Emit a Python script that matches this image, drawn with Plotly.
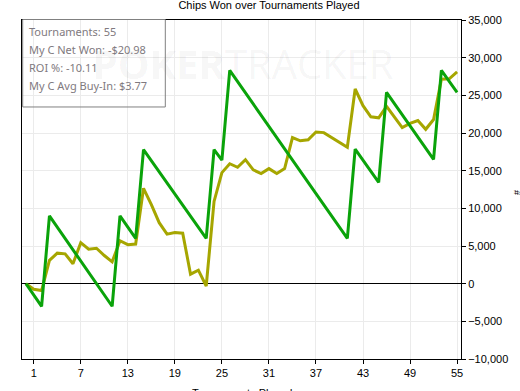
import plotly.graph_objects as go

# ---- data ----
title_text = "Chips Won over Tournaments Played"
x_title = "Tournaments Played"
y_title = "#"

olive_x = list(range(0, 56))
olive_y = [0, -740, -910, 3090, 4050, 3960, 2650, 5440, 4570, 4700,
           3740, 2900, 5700, 5180, 5260, 12660, 10480, 8090, 6570, 6790,
           6700, 1260, 1790, -310, 10920, 14740, 15920, 15450, 16460, 15100,
           14620, 15270, 14620, 15270, 19400, 18960, 19090, 20140, 20050, 19400,
           18750, 18100, 25840, 23620, 22150, 22020, 23530, 22150, 20710, 21270,
           21660, 20490, 21790, 27140, 27200, 28100]

green_x = [0, 2, 3, 11, 12, 14, 15, 23, 24, 25, 26, 41, 42, 45, 46, 52, 53, 55]
green_y = [0, -3000, 9000, -3000, 9000, 6000, 17800, 6000, 17800, 16400,
           28300, 6000, 17850, 13450, 25400, 16500, 28300, 25400]

x_ticks = [1, 7, 13, 19, 25, 31, 37, 43, 49, 55]
y_ticks = [-10000, -5000, 0, 5000, 10000, 15000, 20000, 25000, 30000, 35000]

stats_lines = ["Tournaments: 55", "My C Net Won: -$20.98", "ROI %: -10.11",
               "My C Avg Buy-In: $3.77"]

W, H = 520, 391
L, R, T, B = 22, 59, 20, 28
pw, ph = W - L - R, H - T - B


def px(xp):
    return (xp - L) / pw


def py(yp):
    return (H - B - yp) / ph


fig = go.Figure()

# watermark (behind lines)
fig.add_trace(go.Scatter(
    x=[27.7], y=[28500], mode="text",
    text=["<b>POKER</b>TRACKER"],
    textfont=dict(family="Open Sans", size=40, color="rgba(0,0,0,0.05)"),
    hoverinfo="skip", showlegend=False))

fig.add_trace(go.Scatter(
    x=olive_x, y=olive_y, mode="lines",
    line=dict(color="#a6a600", width=3), showlegend=False))
fig.add_trace(go.Scatter(
    x=green_x, y=green_y, mode="lines",
    line=dict(color="#0aa30a", width=3), showlegend=False))

fig.update_layout(
    width=W, height=H,
    margin=dict(l=L, r=R, t=T, b=B),
    paper_bgcolor="white", plot_bgcolor="white",
    font=dict(family="Liberation Sans", size=11, color="black"),
    title=dict(text=title_text, x=269 / W, xanchor="center",
               y=1 - 5 / H, yanchor="middle",
               font=dict(family="Liberation Sans", size=11, color="black")),
    xaxis=dict(range=[-0.5, 55.5], tickvals=x_ticks,
               showgrid=True, gridcolor="#ebebeb", gridwidth=1,
               showline=True, linecolor="black", linewidth=1, mirror=True,
               ticks="outside", ticklen=4, tickcolor="black",
               zeroline=False, tickfont=dict(size=11)),
    yaxis=dict(range=[-10000, 35000], tickvals=y_ticks, side="right",
               tickformat=",d",
               showgrid=True, gridcolor="#ebebeb", gridwidth=1,
               showline=True, linecolor="black", linewidth=1, mirror=True,
               ticks="outside", ticklen=4, tickcolor="black",
               zeroline=True, zerolinecolor="black", zerolinewidth=1,
               tickfont=dict(size=11)),
    showlegend=False,
)

# stats box (transparent fill, gray border)
fig.add_shape(type="rect", xref="paper", yref="paper",
              x0=px(22.7), x1=px(165.3), y0=py(108), y1=py(19.5),
              line=dict(color="#808080", width=1),
              fillcolor="rgba(255,255,255,0)", layer="above")
for i, s in enumerate(stats_lines):
    fig.add_annotation(text=s, xref="paper", yref="paper",
                       x=px(27), y=py(31.5 + i * 18.2),
                       xanchor="left", yanchor="middle", showarrow=False,
                       font=dict(family="Noto Sans", size=11, color="#7f7a80"))

# axis titles
fig.add_annotation(text=y_title, xref="paper", yref="paper",
                   x=px(517), y=py(195), textangle=-90,
                   xanchor="center", yanchor="middle", showarrow=False,
                   font=dict(size=9, color="black"))
fig.add_annotation(text=x_title, xref="paper", yref="paper",
                   x=0.5, y=py(389), xanchor="center", yanchor="top",
                   showarrow=False, font=dict(size=11, color="black"))

fig.write_html("out.html",
               config={"displayModeBar": False},
               post_script="document.body.style.margin='0';"
                           "document.body.style.overflow='hidden';")
